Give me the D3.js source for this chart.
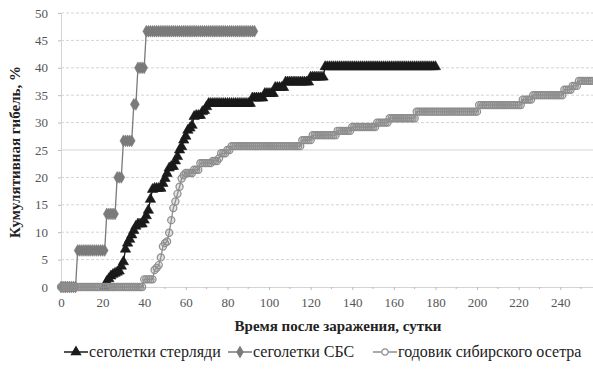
<!DOCTYPE html>
<html>
<head>
<meta charset="utf-8">
<script src="https://cdn.jsdelivr.net/npm/d3@7"></script>
</head>
<body style="margin:0;background:#fff">
<svg id="mortality" width="593" height="377"></svg>
<script>
// Cumulative mortality (%) by day after infection; one value per day,
// starting from the given first day.
const sterletStartDay = 21;
const sterletValues = [
  0, 1.0, 1.5, 2.0, 2.3, 2.5, 2.7, 2.9, 3.8, 4.6,
  6.9, 8.0, 8.7, 9.5, 10.3, 11.1, 11.5, 11.5, 11.5, 12.2,
  13.0, 14.0, 16.0, 17.8, 18.0, 18.0, 18.0, 18.0, 18.9, 19.8,
  20.7, 21.7, 22.0, 22.0, 23.0, 23.8, 25.0, 25.6, 26.8, 27.5,
  28.6, 29.0, 29.5, 31.1, 31.3, 31.3, 31.3, 32.0, 32.2, 32.9,
  33.5, 33.5, 33.5, 33.5, 33.5, 33.5, 33.5, 33.5, 33.5, 33.5,
  33.5, 33.5, 33.5, 33.5, 33.5, 33.5, 33.5, 33.5, 33.5, 33.5, 33.5,
  34.5, 34.5, 34.5, 34.5, 34.5, 34.5,
  35.3, 35.3, 35.3, 35.3, 35.3,
  36.4, 36.4, 36.4, 36.4, 36.4,
  37.4, 37.4, 37.4, 37.4, 37.4, 37.4, 37.4, 37.4, 37.4, 37.4, 37.4, 37.4,
  38.3, 38.3, 38.3, 38.3, 38.3, 38.3, 38.3,
  40.2, 40.2, 40.2, 40.2, 40.2, 40.2, 40.2, 40.2, 40.2, 40.2,
  40.2, 40.2, 40.2, 40.2, 40.2, 40.2, 40.2, 40.2, 40.2, 40.2,
  40.2, 40.2, 40.2, 40.2, 40.2, 40.2, 40.2, 40.2, 40.2, 40.2,
  40.2, 40.2, 40.2, 40.2, 40.2, 40.2, 40.2, 40.2, 40.2, 40.2,
  40.2, 40.2, 40.2, 40.2, 40.2, 40.2, 40.2, 40.2, 40.2, 40.2,
  40.2, 40.2, 40.2, 40.2
];

const sbsStartDay = 0;
const sbsValues = [
  0, 0, 0, 0, 0, 0, 0, 0,
  6.67, 6.67, 6.67, 6.67, 6.67, 6.67, 6.67, 6.67, 6.67, 6.67, 6.67, 6.67, 6.67, 6.67,
  13.33, 13.33, 13.33, 13.33, 13.33,
  20, 20, 20,
  26.67, 26.67, 26.67, 26.67, 26.67,
  33.33, 33.33,
  40, 40, 40, 40,
  46.67, 46.67, 46.67, 46.67, 46.67, 46.67, 46.67, 46.67, 46.67, 46.67,
  46.67, 46.67, 46.67, 46.67, 46.67, 46.67, 46.67, 46.67, 46.67, 46.67,
  46.67, 46.67, 46.67, 46.67, 46.67, 46.67, 46.67, 46.67, 46.67, 46.67,
  46.67, 46.67, 46.67, 46.67, 46.67, 46.67, 46.67, 46.67, 46.67, 46.67,
  46.67, 46.67, 46.67, 46.67, 46.67, 46.67, 46.67, 46.67, 46.67, 46.67,
  46.67, 46.67, 46.67
];

const sturgeonStartDay = 0;
const sturgeonValues = [
  0, 0, 0, 0, 0, 0, 0, 0, 0, 0,
  0, 0, 0, 0, 0, 0, 0, 0, 0, 0,
  0, 0, 0, 0, 0, 0, 0, 0, 0, 0,
  0, 0, 0, 0, 0, 0, 0, 0, 0, 0,
  1.4, 1.4, 1.4, 1.4, 1.4,
  3.1, 3.5, 4.0, 5.4, 7.4, 8.0, 8.3, 9.9, 12.2, 14.4,
  15.6, 17.0, 18.3, 19.8, 20.4,
  20.8, 20.8, 20.8, 20.8,
  21.4, 21.4, 21.4,
  22.6, 22.6, 22.6, 22.6, 22.6, 22.6,
  23.0, 23.0, 23.0,
  23.5,
  24.4, 24.4, 24.4,
  25.0, 25.0,
  25.7, 25.7, 25.7, 25.7, 25.7, 25.7, 25.7, 25.7, 25.7, 25.7,
  25.7, 25.7, 25.7, 25.7, 25.7, 25.7, 25.7, 25.7, 25.7, 25.7,
  25.7, 25.7, 25.7, 25.7, 25.7, 25.7, 25.7, 25.7, 25.7, 25.7,
  25.7, 25.7, 25.7, 25.7,
  26.8, 26.8, 26.8, 26.8, 26.8,
  27.7, 27.7, 27.7, 27.7, 27.7, 27.7, 27.7, 27.7, 27.7, 27.7, 27.7, 27.7,
  28.5, 28.5, 28.5, 28.5, 28.5, 28.5, 28.5,
  29.2, 29.2, 29.2, 29.2, 29.2, 29.2, 29.2, 29.2, 29.2, 29.2, 29.2, 29.2,
  30.0, 30.0, 30.0, 30.0, 30.0, 30.0,
  30.8, 30.8, 30.8, 30.8, 30.8, 30.8, 30.8, 30.8, 30.8, 30.8, 30.8, 30.8, 30.8,
  32.0, 32.0, 32.0, 32.0, 32.0, 32.0, 32.0, 32.0, 32.0, 32.0,
  32.0, 32.0, 32.0, 32.0, 32.0, 32.0, 32.0, 32.0, 32.0, 32.0,
  32.0, 32.0, 32.0, 32.0, 32.0, 32.0, 32.0, 32.0, 32.0, 32.0,
  33.2, 33.2, 33.2, 33.2, 33.2, 33.2, 33.2, 33.2, 33.2, 33.2,
  33.2, 33.2, 33.2, 33.2, 33.2, 33.2, 33.2, 33.2, 33.2, 33.2, 33.2,
  34.2, 34.2, 34.2, 34.2, 34.2,
  35.0, 35.0, 35.0, 35.0, 35.0, 35.0, 35.0, 35.0, 35.0, 35.0,
  35.0, 35.0, 35.0, 35.0, 35.0,
  36.0, 36.0, 36.0, 36.0,
  36.7, 36.7, 36.7,
  37.6, 37.6, 37.6, 37.6, 37.6, 37.6, 37.6, 37.6
];

const seriesNames = ["сеголетки стерляди", "сеголетки СБС", "годовик сибирского осетра"];
const yTickValues = [0, 5, 10, 15, 20, 25, 30, 35, 40, 45, 50];
const xTickValues = [0, 20, 40, 60, 80, 100, 120, 140, 160, 180, 200, 220, 240];
const xMinorTicks = [10, 30, 50, 70, 90, 110, 130, 150, 170, 190, 210, 230, 250];
const xTitle = "Время после заражения, сутки";
const yTitle = "Кумулятивная гибель, %";

const svg = d3.select("#mortality");
const serif = "\"Liberation Serif\"";
const setFont = (sel, size, weight) => sel
  .style("font-family", serif)
  .style("font-size", size + "px")
  .style("font-weight", weight || "normal");

const plot = { left: 61, right: 593.5, top: 13, bottom: 287 };
const x = d3.scaleLinear().domain([0, 256]).range([plot.left, plot.right]);
const y = d3.scaleLinear().domain([0, 50]).range([plot.bottom, plot.top]);

const toPoints = (start, values) => values.map((v, i) => ({ day: start + i, value: v }));

const series = [
  { name: seriesNames[0], points: toPoints(sterletStartDay, sterletValues),
    color: "#1a1a1a", symbol: d3.symbolTriangle, size: 46, fill: "#1a1a1a", fillOpacity: 1, legendX: 64 },
  { name: seriesNames[1], points: toPoints(sbsStartDay, sbsValues),
    color: "#7a7a7a", symbol: d3.symbolDiamond, size: 40, fill: "#7a7a7a", fillOpacity: 1, legendX: 228 },
  { name: seriesNames[2], points: toPoints(sturgeonStartDay, sturgeonValues),
    color: "#8e8e8e", symbol: d3.symbolCircle, size: 40, fill: "#8e8e8e", fillOpacity: 0.25, legendX: 373 }
];

// horizontal gridlines
svg.append("g")
  .selectAll("line")
  .data(yTickValues.filter(d => d > 0))
  .join("line")
  .attr("x1", plot.left).attr("x2", plot.right)
  .attr("y1", d => y(d)).attr("y2", d => y(d))
  .attr("stroke", "#d4d4d4")
  .attr("stroke-width", 1)
  .attr("stroke-dasharray", d => d === 25 ? null : "3,2");

// y axis
const yAxis = d3.axisLeft(y).tickValues(yTickValues).tickSize(3).tickPadding(10);
const yG = svg.append("g").attr("transform", `translate(${plot.left},0)`).call(yAxis);
yG.attr("font-family", null).attr("font-size", null);
yG.select(".domain").attr("stroke", "#d4d4d4");
yG.selectAll(".tick line").attr("stroke", "#bbb");
setFont(yG.selectAll(".tick text"), 13).attr("fill", "#555");

// x axis
const xAxis = d3.axisBottom(x).tickValues(xTickValues).tickSize(3).tickPadding(8);
const xG = svg.append("g").attr("transform", `translate(0,${plot.bottom})`).call(xAxis);
xG.attr("font-family", null).attr("font-size", null);
xG.select(".domain").attr("stroke", "#d4d4d4");
xG.selectAll(".tick line").attr("stroke", "#bbb");
setFont(xG.selectAll(".tick text"), 13).attr("fill", "#555");
xG.append("g").selectAll("line")
  .data(xMinorTicks)
  .join("line")
  .attr("x1", d => x(d)).attr("x2", d => x(d))
  .attr("y1", 0).attr("y2", 2)
  .attr("stroke", "#bbb");

// series: line + daily markers
const line = d3.line().x(d => x(d.day)).y(d => y(d.value));

series.forEach(s => {
  const g = svg.append("g");
  g.append("path")
    .datum(s.points)
    .attr("fill", "none")
    .attr("stroke", s.color)
    .attr("stroke-width", 1.3)
    .attr("d", line);
  g.selectAll("path.marker")
    .data(s.points)
    .join("path")
    .attr("class", "marker")
    .attr("transform", d => `translate(${x(d.day)},${y(d.value)})`)
    .attr("d", d3.symbol().type(s.symbol).size(s.size))
    .attr("fill", s.fill)
    .attr("fill-opacity", s.fillOpacity)
    .attr("stroke", s.color)
    .attr("stroke-width", s.symbol === d3.symbolCircle ? 1.2 : 0.6);
});

// axis titles
setFont(svg.append("text"), 15, "bold")
  .attr("x", 338).attr("y", 331)
  .attr("text-anchor", "middle")
  .attr("fill", "#222")
  .text(xTitle);

setFont(svg.append("text"), 15, "bold")
  .attr("transform", "translate(20,152) rotate(-90)")
  .attr("text-anchor", "middle")
  .attr("fill", "#222")
  .text(yTitle);

// legend
const legend = svg.append("g").attr("transform", "translate(0,357)");
series.forEach(s => {
  const item = legend.append("g").attr("transform", `translate(${s.legendX},0)`);
  item.append("line")
    .attr("x1", 0).attr("x2", 24).attr("y1", -5).attr("y2", -5)
    .attr("stroke", s.color).attr("stroke-width", 1.5);
  item.append("path")
    .attr("transform", "translate(12,-5)")
    .attr("d", d3.symbol().type(s.symbol).size(s.size * 0.8))
    .attr("fill", s.symbol === d3.symbolCircle ? "#fff" : s.fill)
    .attr("stroke", s.color)
    .attr("stroke-width", 1.2);
  setFont(item.append("text"), 16)
    .attr("x", 25).attr("y", 0)
    .attr("fill", "#222")
    .text(s.name);
});
</script>
</body>
</html>
